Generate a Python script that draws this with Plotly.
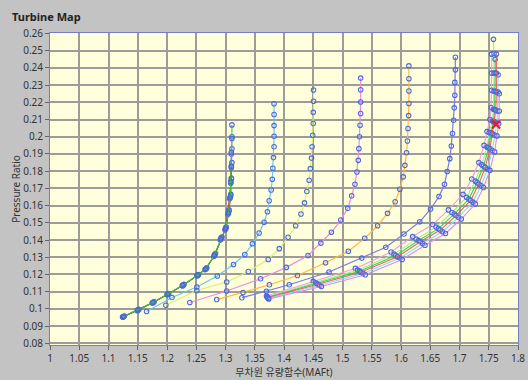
import plotly.graph_objects as go

# ---------------- data ----------------
x_ticks = [1.0, 1.05, 1.1, 1.15, 1.2, 1.25, 1.3, 1.35, 1.4, 1.45, 1.5, 1.55, 1.6, 1.65, 1.7, 1.75, 1.8]
x_tick_labels = ["1", "1.05", "1.1", "1.15", "1.2", "1.25", "1.3", "1.35", "1.4", "1.45", "1.5",
                 "1.55", "1.6", "1.65", "1.7", "1.75", "1.8"]
y_ticks = [0.08, 0.09, 0.1, 0.11, 0.12, 0.13, 0.14, 0.15, 0.16, 0.17, 0.18, 0.19, 0.2,
           0.21, 0.22, 0.23, 0.24, 0.25, 0.26]
y_tick_labels = ["0.08", "0.09", "0.1", "0.11", "0.12", "0.13", "0.14", "0.15", "0.16", "0.17",
                 "0.18", "0.19", "0.2", "0.21", "0.22", "0.23", "0.24", "0.25", "0.26"]

# group 1 (leftmost bundle)
g1_green_x = [1.125, 1.150, 1.176, 1.201, 1.227, 1.252, 1.266, 1.281, 1.292, 1.300, 1.305, 1.308, 1.309, 1.310, 1.310, 1.311, 1.311]
g1_green_y = [0.0954, 0.0993, 0.1037, 0.1085, 0.1137, 0.1195, 0.1232, 0.1312, 0.1408, 0.1466, 0.1560, 0.1650, 0.1740, 0.1830, 0.1910, 0.1990, 0.2069]
g1_red_x = [1.124, 1.149, 1.175, 1.200, 1.226, 1.251, 1.265, 1.280, 1.291, 1.299, 1.304, 1.307, 1.309, 1.310]
g1_red_y = [0.0952, 0.0990, 0.1034, 0.1082, 0.1134, 0.1192, 0.1228, 0.1305, 0.1400, 0.1460, 0.1550, 0.1640, 0.1730, 0.1820]
g1_black_x = [1.126, 1.151, 1.177, 1.202, 1.228, 1.253, 1.267, 1.282, 1.293, 1.301, 1.306, 1.309, 1.310]
g1_black_y = [0.0956, 0.0995, 0.1039, 0.1087, 0.1140, 0.1197, 0.1236, 0.1318, 0.1414, 0.1472, 0.1570, 0.1660, 0.1755]
g1_blue_x = [1.125, 1.150, 1.175, 1.201, 1.227, 1.252, 1.266, 1.281, 1.292, 1.300, 1.305, 1.308, 1.309, 1.310, 1.310]
g1_blue_y = [0.0953, 0.0991, 0.1035, 0.1083, 0.1135, 0.1193, 0.1230, 0.1308, 0.1404, 0.1463, 0.1555, 0.1645, 0.1735, 0.1825, 0.1900]
g1_pink_x = [1.127, 1.152, 1.178, 1.203, 1.229, 1.254, 1.268, 1.283, 1.294, 1.301, 1.306, 1.309, 1.310, 1.311, 1.311, 1.311]
g1_pink_y = [0.0958, 0.0997, 0.1041, 0.1089, 0.1142, 0.1199, 0.1238, 0.1322, 0.1418, 0.1476, 0.1575, 0.1665, 0.1760, 0.1850, 0.1930, 0.2000]

# single speed lines
cyan_x = [1.165, 1.2085, 1.251, 1.286, 1.3137, 1.333, 1.346, 1.3575, 1.366, 1.3717, 1.3746, 1.378, 1.380, 1.381, 1.382, 1.383, 1.383, 1.383, 1.383, 1.383]
cyan_y = [0.0985, 0.1066, 0.1127, 0.1191, 0.1258, 0.1316, 0.1378, 0.1441, 0.1503, 0.1564, 0.1628, 0.1691, 0.1753, 0.1817, 0.1879, 0.1942, 0.2003, 0.2065, 0.2129, 0.2192]

yellow_x = [1.198, 1.251, 1.302, 1.339, 1.373, 1.392, 1.407, 1.420, 1.429, 1.435, 1.439, 1.443, 1.445, 1.447, 1.448, 1.449, 1.450, 1.450, 1.4505, 1.4505]
yellow_y = [0.1021, 0.1107, 0.1156, 0.1217, 0.1287, 0.1350, 0.1416, 0.1483, 0.1551, 0.1616, 0.1682, 0.1747, 0.1815, 0.1876, 0.1942, 0.2009, 0.2077, 0.2142, 0.2206, 0.2272]

pink_x = [1.239, 1.302, 1.360, 1.404, 1.441, 1.463, 1.481, 1.497, 1.509, 1.5157, 1.5213, 1.5247, 1.527, 1.528, 1.529, 1.530, 1.531, 1.531, 1.531, 1.531]
pink_y = [0.1037, 0.1104, 0.1175, 0.1241, 0.1310, 0.1382, 0.1445, 0.1516, 0.1584, 0.1657, 0.1724, 0.1795, 0.1863, 0.1931, 0.2000, 0.2067, 0.2135, 0.2202, 0.2273, 0.2341]

orange_x = [1.285, 1.330, 1.375, 1.423, 1.471, 1.510, 1.538, 1.560, 1.577, 1.590, 1.598, 1.6038, 1.6067, 1.6095, 1.611, 1.612, 1.613, 1.6135, 1.6135, 1.6135, 1.6135]
orange_y = [0.1054, 0.1095, 0.1140, 0.1194, 0.1268, 0.1335, 0.1410, 0.1483, 0.1555, 0.1622, 0.1695, 0.1767, 0.1834, 0.1907, 0.1975, 0.2048, 0.2123, 0.2193, 0.2266, 0.2337, 0.2412]

slate_x = [1.328, 1.370, 1.409, 1.477, 1.533, 1.574, 1.605, 1.632, 1.6505, 1.665, 1.6744, 1.679, 1.6834, 1.686, 1.688, 1.690, 1.691, 1.692, 1.692, 1.693, 1.693]
slate_y = [0.1065, 0.1102, 0.1140, 0.1214, 0.1295, 0.1358, 0.1435, 0.1506, 0.1580, 0.1653, 0.1724, 0.1798, 0.1873, 0.1946, 0.2019, 0.2096, 0.2168, 0.2241, 0.2316, 0.2389, 0.2462]

# group 7 (rightmost bundle)
g7_pink_x = [1.370, 1.450, 1.522, 1.583, 1.620, 1.654, 1.681, 1.706, 1.721, 1.733, 1.742, 1.747, 1.752, 1.754, 1.755, 1.755, 1.755]
g7_pink_y = [0.1075, 0.1160, 0.1235, 0.1330, 0.1420, 0.1490, 0.1575, 0.1665, 0.1755, 0.1850, 0.1950, 0.2030, 0.2100, 0.2170, 0.2270, 0.2370, 0.2480]
g7_lgreen_x = [1.371, 1.454, 1.526, 1.588, 1.626, 1.660, 1.687, 1.712, 1.727, 1.738, 1.747, 1.751, 1.756, 1.758, 1.759, 1.759, 1.759, 1.758]
g7_lgreen_y = [0.1070, 0.1152, 0.1225, 0.1318, 0.1405, 0.1475, 0.1560, 0.1648, 0.1742, 0.1838, 0.1940, 0.2025, 0.2092, 0.2160, 0.2265, 0.2370, 0.2485, 0.2566]
g7_green_x = [1.372, 1.456, 1.529, 1.591, 1.630, 1.664, 1.691, 1.716, 1.730, 1.741, 1.750, 1.754, 1.758, 1.760, 1.761, 1.761, 1.761]
g7_green_y = [0.1068, 0.1147, 0.1219, 0.1310, 0.1397, 0.1466, 0.1551, 0.1638, 0.1734, 0.1830, 0.1936, 0.2023, 0.2090, 0.2158, 0.2264, 0.2370, 0.2450]
g7_red_x = [1.372, 1.458, 1.531, 1.594, 1.633, 1.667, 1.694, 1.719, 1.733, 1.744, 1.752, 1.756, 1.760, 1.762, 1.763, 1.763, 1.763]
g7_red_y = [0.1066, 0.1143, 0.1213, 0.1303, 0.1390, 0.1458, 0.1542, 0.1630, 0.1725, 0.1822, 0.1930, 0.2018, 0.2085, 0.2155, 0.2260, 0.2370, 0.2480]
g7_cyan_x = [1.373, 1.461, 1.535, 1.598, 1.637, 1.671, 1.698, 1.723, 1.737, 1.748, 1.756, 1.760, 1.764, 1.765, 1.766, 1.766]
g7_cyan_y = [0.1062, 0.1137, 0.1206, 0.1295, 0.1380, 0.1448, 0.1532, 0.1620, 0.1715, 0.1812, 0.1920, 0.2010, 0.2080, 0.2150, 0.2260, 0.2360]
g7_violet_x = [1.374, 1.464, 1.539, 1.602, 1.641, 1.676, 1.703, 1.727, 1.741, 1.752, 1.760, 1.764, 1.767, 1.768, 1.768]
g7_violet_y = [0.1058, 0.1130, 0.1198, 0.1287, 0.1370, 0.1438, 0.1522, 0.1610, 0.1705, 0.1805, 0.1912, 0.2005, 0.2075, 0.2150, 0.2250]

op_x = [1.7625]
op_y = [0.2071]

series = [
    (g1_black_x, g1_black_y, "#303030", 0.8),
    (g1_pink_x, g1_pink_y, "#f088d8", 1.1),
    (g1_blue_x, g1_blue_y, "#3050e0", 1.0),
    (g1_red_x, g1_red_y, "#d02020", 1.0),
    (g1_green_x, g1_green_y, "#30d030", 1.1),
    (cyan_x, cyan_y, "#6cc8f0", 1.2),
    (yellow_x, yellow_y, "#d8f070", 1.2),
    (pink_x, pink_y, "#ec8ce0", 1.2),
    (orange_x, orange_y, "#ffb840", 1.2),
    (slate_x, slate_y, "#7c7ce8", 1.2),
    (g7_pink_x, g7_pink_y, "#f49ae8", 1.1),
    (g7_lgreen_x, g7_lgreen_y, "#98f090", 1.1),
    (g7_green_x, g7_green_y, "#40d060", 1.1),
    (g7_cyan_x, g7_cyan_y, "#80e0f8", 1.1),
    (g7_red_x, g7_red_y, "#f06060", 1.1),
    (g7_violet_x, g7_violet_y, "#e088f8", 1.1),
]

fig = go.Figure()
for xs, ys, col, w in series:
    fig.add_trace(go.Scatter(
        x=xs, y=ys, mode="lines+markers",
        line=dict(color=col, width=w),
        marker=dict(symbol="circle-open", size=4.5, color="#4a68e0", line=dict(width=1.1)),
        showlegend=False, hoverinfo="skip"))

fig.add_trace(go.Scatter(
    x=op_x, y=op_y, mode="markers",
    marker=dict(symbol="x-thin", size=8, line=dict(color="#ff1010", width=2)),
    showlegend=False, hoverinfo="skip"))

font_family = "Noto Sans, Noto Sans CJK KR, sans-serif"
axis_common = dict(
    showgrid=True, gridcolor="#9c9c98", gridwidth=1.5,
    zeroline=False, showline=True, linecolor="#7080c8", linewidth=1, mirror=True,
    ticks="outside", ticklen=4, tickcolor="#666666", automargin=False,
    tickfont=dict(family=font_family, size=10, color="#333333"),
)

fig.update_layout(
    width=528, height=380,
    margin=dict(l=50, r=10, t=33, b=35),
    paper_bgcolor="#c3c3c3",
    plot_bgcolor="#ffffdc",
    font=dict(family=font_family, color="#333333"),
    title=dict(text="<b>Turbine Map</b>", x=12/528, xref="container", xanchor="left",
               y=1-17/380, yref="container", yanchor="middle",
               font=dict(family=font_family, size=11, color="#222222")),
    xaxis=dict(range=[1.0, 1.8], tickvals=x_ticks, ticktext=x_tick_labels,
               title=dict(text="무차원 유량함수(MAFt)", standoff=4,
                          font=dict(family=font_family, size=10, color="#333333")),
               **axis_common),
    yaxis=dict(range=[0.079, 0.2603], tickvals=y_ticks, ticktext=y_tick_labels,
               title=dict(text="Pressure Ratio", standoff=0,
                          font=dict(family=font_family, size=10, color="#333333")),
               **axis_common),
)

fig.write_html("out.html", config={"displayModeBar": False},
               post_script="document.body.style.margin='0px';document.body.style.overflow='hidden';document.body.style.background='#c3c3c3';")
